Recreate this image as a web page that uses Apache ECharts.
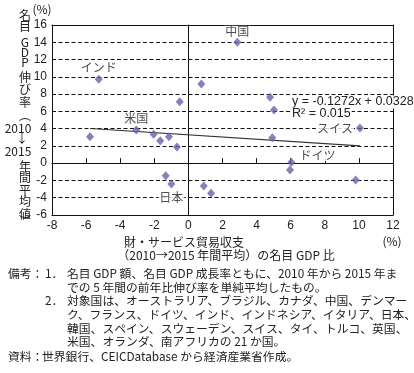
<!DOCTYPE html>
<html><head><meta charset="utf-8">
<script src="https://cdn.jsdelivr.net/npm/echarts@6/dist/echarts.min.js"></script>
<style>html,body{margin:0;padding:0;background:#fff}#c{width:414px;height:373px}</style>
</head><body><div id="c"></div>
<script>
// ---- data ----
const countryNames = ['インド','','米国','','','','','','','日本','','','','中国','','','','スイス','ドイツ','',''];
const tradeBalance = [-5.26,-5.77,-3.06,-2.04,-1.65,-1.14,-0.67,-0.51,-1.33,-1.00,0.76,0.90,1.33,2.87,4.79,5.02,4.92,10.06,6.04,5.96,9.81];
const gdpGrowth    = [9.72,3.07,3.84,3.35,2.61,3.07,1.88,7.12,-1.45,-2.41,9.17,-2.64,-3.49,14.0,7.63,6.16,2.95,4.08,0.10,-0.79,-1.95];
const trendSlope = -0.1272;
const trendIntercept = 3.28;
const xMin = -8, xMax = 12, xStep = 2;
const yMin = -6, yMax = 16, yStep = 2;
const equationLines = ['y = -0.1272x + 0.0328', 'R² = 0.015'];
const yTitleGlyphs = ['名','目','G','D','P','伸','び','率','︵','2010','↓','2015','年','間','平','均','値','︶'];
const xTitleLines = ['財・サービス貿易収支', '（2010→2015 年間平均）の名目 GDP 比'];
const unitLabel = '(%)';
const noteLines = [
  ['備考：', '1．', '名目 GDP 額、名目 GDP 成長率ともに、2010 年から 2015 年ま'],
  ['', '', 'での 5 年間の前年比伸び率を単純平均したもの。'],
  ['', '2．', '対象国は、オーストラリア、ブラジル、カナダ、中国、デンマー'],
  ['', '', 'ク、フランス、ドイツ、インド、インドネシア、イタリア、日本、'],
  ['', '', '韓国、スペイン、スウェーデン、スイス、タイ、トルコ、英国、'],
  ['', '', '米国、オランダ、南アフリカの 21 か国。'],
  ['資料：', '', '世界銀行、CEICDatabase から経済産業省作成。']
];

// ---- styles ----
const CJK = '"Noto Sans CJK JP", "Noto Sans", sans-serif';
const NUM = '"Liberation Sans Narrow", "Liberation Sans", sans-serif';
const markerColor = '#6a5fad';
const labelStyles = {
  'インド': {position: 'top', distance: 1},
  '米国': {position: 'top', distance: 1.5},
  '日本': {position: 'bottom', distance: 2.5},
  '中国': {position: 'top', distance: 0},
  'スイス': {position: 'left', distance: 2},
  'ドイツ': {position: 'right', distance: 3, offset: [0, -7]}
};
const yTitleY = [15.3,26,42.5,52.8,62.5,77.5,89.5,102.5,115.5,128.5,138.7,151,166,177.5,190,201.7,214,221.5];
const yTitleX = [25,25,25,25,25,25,25,25,25,18,22,18,25,25,25,25,25,25];

const scatterData = tradeBalance.map((x, i) => {
  const name = countryNames[i];
  const item = {value: [x, gdpGrowth[i]], name: name};
  if (name && labelStyles[name]) {
    item.label = Object.assign({
      show: true, formatter: '{b}', color: '#222', fontFamily: CJK, fontSize: 12,
      backgroundColor: '#fff', padding: [0, 1]
    }, labelStyles[name]);
  }
  return item;
});
const tx0 = Math.min(...tradeBalance), tx1 = Math.max(...tradeBalance);
const trendData = [[tx0, trendSlope * tx0 + trendIntercept], [tx1, trendSlope * tx1 + trendIntercept]];

const graphics = [];
yTitleGlyphs.forEach((g, i) => {
  graphics.push({type: 'text', x: yTitleX[i], y: yTitleY[i], z: 10,
    style: {text: g, fill: '#222', font: '12px ' + CJK, textAlign: 'center', textVerticalAlign: 'middle'}});
});
graphics.push({type: 'text', x: 42, y: 9, style: {text: unitLabel, fill: '#222', font: '12px ' + CJK, textAlign: 'center', textVerticalAlign: 'middle'}});
graphics.push({type: 'text', x: 392, y: 241, style: {text: unitLabel, fill: '#222', font: '12px ' + CJK, textAlign: 'center', textVerticalAlign: 'middle'}});
graphics.push({type: 'text', x: 184, y: 242, style: {text: xTitleLines[0], fill: '#222', font: '12px ' + CJK, textAlign: 'center', textVerticalAlign: 'middle'}});
graphics.push({type: 'text', x: 226, y: 255.5, style: {text: xTitleLines[1], fill: '#222', font: '12px ' + CJK, textAlign: 'center', textVerticalAlign: 'middle'}});
graphics.push({type: 'text', x: 291, y: 102, z: 20, style: {text: equationLines[0], fill: '#222', font: '12.5px ' + NUM, textAlign: 'left', textVerticalAlign: 'middle', backgroundColor: '#fff', padding: [0, 1]}});
graphics.push({type: 'text', x: 291, y: 114, z: 20, style: {text: equationLines[1], fill: '#222', font: '12.5px ' + NUM, textAlign: 'left', textVerticalAlign: 'middle', backgroundColor: '#fff', padding: [0, 1]}});
const noteY = [274, 287.5, 301, 315, 328.5, 342, 357];
noteLines.forEach((ln, i) => {
  if (ln[0]) graphics.push({type: 'text', x: 8, y: noteY[i], style: {text: ln[0], fill: '#222', font: '11.8px ' + CJK, textVerticalAlign: 'middle'}});
  if (ln[1]) graphics.push({type: 'text', x: 45, y: noteY[i], style: {text: ln[1], fill: '#222', font: '11.8px ' + CJK, textVerticalAlign: 'middle'}});
  if (ln[2]) graphics.push({type: 'text', x: i === 6 ? 42 : 67, y: noteY[i], style: {text: ln[2], fill: '#222', font: '11.8px ' + CJK, textVerticalAlign: 'middle'}});
});

const axisBlack = {color: '#111', width: 1};
const chart = echarts.init(document.getElementById('c'), null, {renderer: 'canvas'});
chart.setOption({
  animation: false,
  backgroundColor: '#fff',
  grid: {left: 52, right: 21, top: 25, bottom: 158, containLabel: false},
  xAxis: [
    {type: 'value', min: xMin, max: xMax, interval: xStep, position: 'bottom',
     axisLine: {show: true, onZero: false, lineStyle: axisBlack}, axisTick: {show: false},
     axisLabel: {margin: 5, color: '#222', fontFamily: NUM, fontSize: 12}, splitLine: {show: false}},
    {type: 'value', min: xMin, max: xMax, interval: xStep, position: 'top',
     axisLine: {show: true, onZero: false, lineStyle: axisBlack}, axisTick: {show: false},
     axisLabel: {show: false}, splitLine: {show: false}},
    {type: 'value', min: xMin, max: xMax, interval: xStep, position: 'bottom',
     axisLine: {show: true, onZero: true, lineStyle: axisBlack},
     axisTick: {show: true, inside: true, length: 5, lineStyle: axisBlack},
     axisLabel: {show: false}, splitLine: {show: false}}
  ],
  yAxis: [
    {type: 'value', min: yMin, max: yMax, interval: yStep, position: 'left',
     axisLine: {show: true, onZero: false, lineStyle: axisBlack}, axisTick: {show: false},
     axisLabel: {margin: 5, color: '#222', fontFamily: NUM, fontSize: 12},
     splitLine: {show: true, lineStyle: {color: '#111', width: 1, type: [4, 2.5]}}},
    {type: 'value', min: yMin, max: yMax, interval: yStep, position: 'right',
     axisLine: {show: true, onZero: false, lineStyle: axisBlack}, axisTick: {show: false},
     axisLabel: {show: false}, splitLine: {show: false}},
    {type: 'value', min: yMin, max: yMax, interval: yStep, position: 'left',
     axisLine: {show: true, onZero: true, lineStyle: axisBlack}, axisTick: {show: false},
     axisLabel: {show: false}, splitLine: {show: false}}
  ],
  series: [
    {type: 'line', data: trendData, xAxisIndex: 0, yAxisIndex: 0, symbol: 'none',
     lineStyle: {color: '#333', width: 1.2}, z: 3, silent: true},
    {type: 'scatter', data: scatterData, xAxisIndex: 0, yAxisIndex: 0, symbol: 'diamond', symbolSize: [8, 9],
     itemStyle: {color: markerColor}, z: 5, label: {show: false}}
  ],
  graphic: graphics
});
</script></body></html>
